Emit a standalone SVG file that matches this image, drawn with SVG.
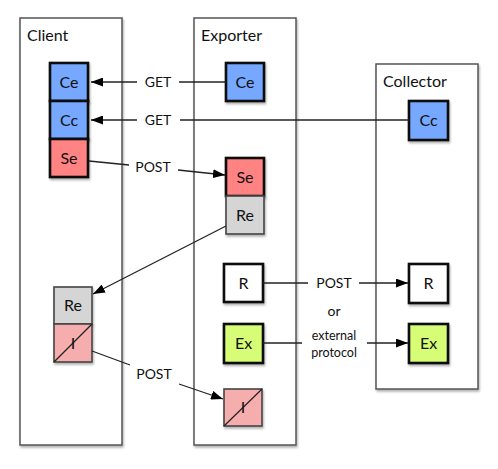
<svg xmlns="http://www.w3.org/2000/svg" width="498" height="469" viewBox="0 0 498 469">
<defs>
<filter id="sh" x="-20%" y="-20%" width="150%" height="150%">
<feDropShadow dx="1" dy="2" stdDeviation="1.2" flood-color="#000" flood-opacity="0.3"/>
</filter>
<marker id="ah" viewBox="0 0 12 9" refX="12" refY="4.5" markerWidth="12" markerHeight="9" markerUnits="userSpaceOnUse" orient="auto">
<path d="M0,0 L12,4.5 L0,9 Z" fill="#000"/>
</marker>
<style>
text{font-family:Lato,"Open Sans","Liberation Sans",sans-serif;fill:#111}
.box{fill:#fff;stroke:#555;stroke-width:1.5}
.title{font-size:16px}
.n{stroke:#111;stroke-width:2.6}
.t{stroke:#444;stroke-width:1.6}
.nt{font-size:16px;text-anchor:middle}
.lbl{font-size:14px;text-anchor:middle}
.sm{font-size:12.5px;text-anchor:middle}
.blue{fill:#76a8ff}.red{fill:#ff8383}.gray{fill:#d5d5d5}.pink{fill:#f5adad}.green{fill:#d6fd74}.white{fill:#fff}
.c{stroke:#222;stroke-width:1.3;fill:none}
.a{marker-end:url(#ah)}
</style>
</defs>
<g id="client">
<rect class="box" x="20" y="18" width="102" height="427" filter="url(#sh)"/>
<text class="title" x="27" y="41">Client</text>
</g>
<g id="exporter">
<rect class="box" x="194" y="18" width="102" height="427" filter="url(#sh)"/>
<text class="title" x="201" y="41">Exporter</text>
</g>
<g id="collector">
<rect class="box" x="376" y="64" width="102" height="325" filter="url(#sh)"/>
<text class="title" x="383" y="87">Collector</text>
</g>
<g id="client-ce"><rect class="n blue" x="50" y="63" width="38" height="38" filter="url(#sh)"/><text class="nt" x="69" y="88">Ce</text></g>
<g id="client-cc"><rect class="n blue" x="50" y="101" width="38" height="38" filter="url(#sh)"/><text class="nt" x="69" y="126">Cc</text></g>
<g id="client-se"><rect class="n red" x="50" y="139" width="38" height="38" filter="url(#sh)"/><text class="nt" x="69" y="164">Se</text></g>
<g id="client-re"><rect class="t gray" x="54" y="287" width="38" height="37" filter="url(#sh)"/><text class="nt" x="73" y="311">Re</text></g>
<g id="client-i"><rect class="t pink" x="54" y="324" width="38" height="38" filter="url(#sh)"/><line x1="54" y1="362" x2="92" y2="324" stroke="#222" stroke-width="1.2"/><text class="nt" x="73" y="349">I</text></g>
<g id="exporter-ce"><rect class="n blue" x="226" y="63" width="38" height="38" filter="url(#sh)"/><text class="nt" x="245" y="88">Ce</text></g>
<g id="exporter-se"><rect class="n red" x="226" y="158" width="38" height="38" filter="url(#sh)"/><text class="nt" x="245" y="183">Se</text></g>
<g id="exporter-re"><rect class="t gray" x="226" y="196" width="38" height="38" filter="url(#sh)"/><text class="nt" x="245" y="221">Re</text></g>
<g id="exporter-r"><rect class="n white" x="224" y="264" width="39" height="38" filter="url(#sh)"/><text class="nt" x="243.5" y="289">R</text></g>
<g id="exporter-ex"><rect class="n green" x="224" y="324" width="39" height="39" filter="url(#sh)"/><text class="nt" x="243.5" y="349">Ex</text></g>
<g id="exporter-i"><rect class="t pink" x="224" y="389" width="38" height="37" filter="url(#sh)"/><line x1="224" y1="426" x2="262" y2="389" stroke="#222" stroke-width="1.2"/><text class="nt" x="243" y="413">I</text></g>
<g id="collector-cc"><rect class="n blue" x="409" y="101" width="39" height="39" filter="url(#sh)"/><text class="nt" x="428.5" y="126">Cc</text></g>
<g id="collector-r"><rect class="n white" x="409" y="264" width="39" height="39" filter="url(#sh)"/><text class="nt" x="428.5" y="289">R</text></g>
<g id="collector-ex"><rect class="n green" x="409" y="324" width="39" height="39" filter="url(#sh)"/><text class="nt" x="428.5" y="349">Ex</text></g>
<g id="connectors">
<line class="c" x1="226" y1="82" x2="179" y2="82"/>
<line class="c a" x1="137" y1="82" x2="91" y2="82"/>
<text class="lbl" x="158" y="87">GET</text>
<line class="c" x1="409" y1="120" x2="180" y2="120"/>
<line class="c a" x1="137" y1="120" x2="91" y2="120"/>
<text class="lbl" x="158" y="125">GET</text>
<line class="c" x1="89" y1="161" x2="129" y2="165"/>
<line class="c a" x1="178" y1="170" x2="225" y2="175"/>
<text class="lbl" x="153" y="172">POST</text>
<line class="c a" x1="226" y1="226" x2="93" y2="294"/>
<line class="c" x1="92" y1="351" x2="130" y2="365"/>
<line class="c a" x1="179" y1="384" x2="223" y2="399"/>
<text class="lbl" x="154" y="379">POST</text>
<line class="c" x1="263" y1="283" x2="308" y2="283"/>
<line class="c a" x1="359" y1="283" x2="408" y2="283"/>
<text class="lbl" x="334" y="288">POST</text>
<text class="lbl" x="334" y="316">or</text>
<line class="c" x1="263" y1="343" x2="302" y2="343"/>
<line class="c a" x1="367" y1="343" x2="408" y2="343"/>
<text class="sm" x="334" y="340">external</text>
<text class="sm" x="334" y="357">protocol</text>
</g>
</svg>
